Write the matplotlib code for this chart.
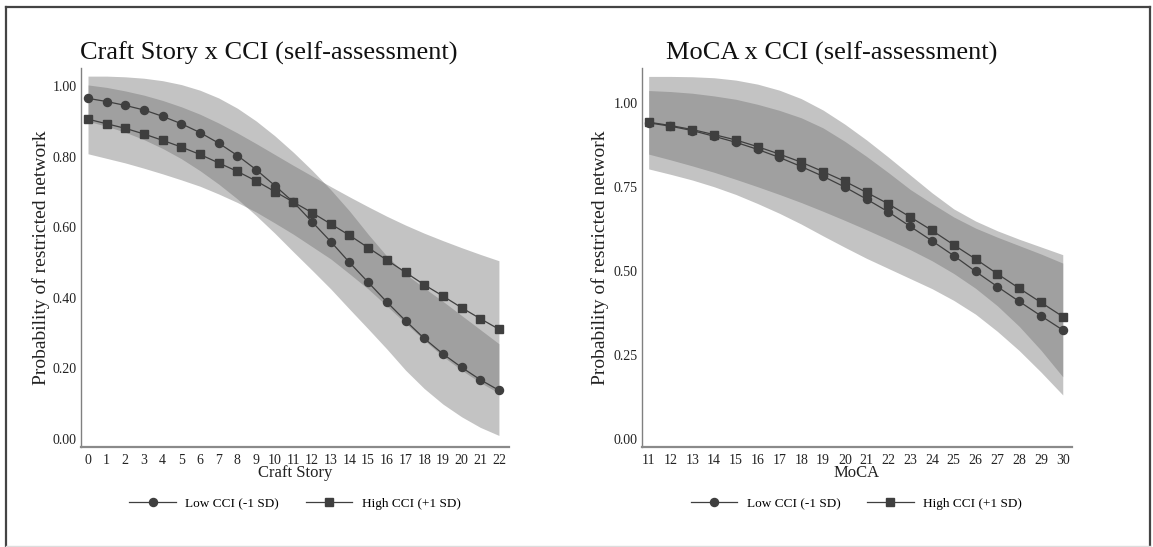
import matplotlib
matplotlib.use("Agg")
import matplotlib.pyplot as plt
from matplotlib.lines import Line2D
import numpy as np

plt.rcParams['font.family'] = ['Liberation Serif', 'DejaVu Serif']

# Craft Story panel
craft_x = np.arange(0, 23)
craft_low = [0.965, 0.956, 0.945, 0.932, 0.914, 0.893, 0.868, 0.838, 0.803, 0.763, 0.718, 0.671,
             0.615, 0.559, 0.500, 0.444, 0.388, 0.335, 0.285, 0.241, 0.203, 0.168, 0.138]
craft_high = [0.906, 0.893, 0.880, 0.864, 0.846, 0.827, 0.806, 0.782, 0.758, 0.731, 0.701, 0.671,
              0.641, 0.609, 0.577, 0.542, 0.507, 0.472, 0.437, 0.405, 0.372, 0.341, 0.311]
craft_low_upper = [1.028, 1.028, 1.026, 1.022, 1.015, 1.004, 0.988, 0.966, 0.937, 0.901, 0.859, 0.812,
                   0.761, 0.706, 0.646, 0.580, 0.518, 0.468, 0.428, 0.390, 0.350, 0.310, 0.270]
craft_low_lower = [0.900, 0.886, 0.869, 0.848, 0.823, 0.794, 0.760, 0.722, 0.680, 0.633, 0.583, 0.530,
                   0.478, 0.425, 0.368, 0.312, 0.255, 0.195, 0.143, 0.099, 0.063, 0.033, 0.010]
craft_high_upper = [1.003, 0.996, 0.986, 0.974, 0.959, 0.941, 0.920, 0.895, 0.867, 0.837, 0.806, 0.775,
                    0.745, 0.715, 0.686, 0.658, 0.631, 0.606, 0.583, 0.562, 0.542, 0.523, 0.505]
craft_high_lower = [0.808, 0.795, 0.782, 0.767, 0.751, 0.734, 0.716, 0.694, 0.670, 0.643, 0.612, 0.580,
                    0.545, 0.510, 0.468, 0.425, 0.377, 0.328, 0.280, 0.234, 0.195, 0.160, 0.130]
craft_yticks = [0.0, 0.2, 0.4, 0.6, 0.8, 1.0]

# MoCA panel
moca_x = np.arange(11, 31)
moca_low = [0.940, 0.930, 0.917, 0.900, 0.882, 0.861, 0.837, 0.810, 0.781, 0.749,
            0.713, 0.675, 0.632, 0.589, 0.545, 0.498, 0.453, 0.409, 0.366, 0.324]
moca_high = [0.942, 0.932, 0.920, 0.905, 0.889, 0.869, 0.847, 0.823, 0.795, 0.766,
             0.733, 0.699, 0.660, 0.620, 0.577, 0.535, 0.491, 0.448, 0.406, 0.364]
moca_low_upper = [1.078, 1.078, 1.077, 1.074, 1.067, 1.055, 1.037, 1.012, 0.978, 0.936,
                  0.889, 0.838, 0.785, 0.732, 0.684, 0.648, 0.619, 0.594, 0.571, 0.548]
moca_low_lower = [0.803, 0.787, 0.770, 0.750, 0.727, 0.700, 0.671, 0.639, 0.604, 0.570,
                  0.537, 0.507, 0.477, 0.447, 0.412, 0.371, 0.320, 0.263, 0.199, 0.131]
moca_high_upper = [1.036, 1.033, 1.028, 1.020, 1.010, 0.995, 0.977, 0.955, 0.925, 0.885,
                   0.840, 0.792, 0.742, 0.700, 0.660, 0.627, 0.600, 0.575, 0.550, 0.523]
moca_high_lower = [0.847, 0.830, 0.812, 0.793, 0.772, 0.750, 0.727, 0.703, 0.677, 0.650,
                   0.622, 0.593, 0.563, 0.530, 0.492, 0.448, 0.396, 0.335, 0.264, 0.185]
moca_yticks = [0.0, 0.25, 0.5, 0.75, 1.0]

series_labels = ["Low CCI (-1 SD)", "High CCI (+1 SD)"]

band_color = "#6e6e6e"
band_alpha = 0.41
line_color = "#3f3f3f"

fig = plt.figure(figsize=(11.53, 5.47), dpi=100)
W, H = 1153, 547


def px_axes(x0, x1, y0, y1):
    return fig.add_axes([x0 / W, 1 - y1 / H, (x1 - x0) / W, (y1 - y0) / H])


def draw_panel(ax, x, low, high, lu, ll, hu, hl, yticks, title, xlabel, xlim, ylim, title_x):
    ax.fill_between(x, ll, lu, color=band_color, alpha=band_alpha, linewidth=0, zorder=1)
    ax.fill_between(x, hl, hu, color=band_color, alpha=band_alpha, linewidth=0, zorder=1)
    ax.plot(x, low, "-o", color=line_color, lw=0.9, ms=5.8, label=series_labels[0], zorder=3)
    ax.plot(x, high, "-s", color=line_color, lw=0.9, ms=6.0, label=series_labels[1], zorder=3)

    ax.set_xlim(*xlim)
    ax.set_ylim(*ylim)
    ax.set_xticks(x)
    ax.set_yticks(yticks)
    ax.set_yticklabels(["%.2f" % v for v in yticks])
    ax.tick_params(length=0, labelsize=10, colors="#222222")
    ax.tick_params(axis="y", pad=3)
    ax.tick_params(axis="x", pad=5)

    for s in ["top", "right"]:
        ax.spines[s].set_visible(False)
    ax.spines["left"].set_color("#808080")
    ax.spines["left"].set_linewidth(1.0)
    ax.spines["bottom"].set_color("#8a8a8a")
    ax.spines["bottom"].set_linewidth(1.6)

    ax.set_title(title, fontsize=19, x=title_x, y=1.021, pad=0, color="#111111")
    ax.set_xlabel(xlabel, fontsize=12, color="#222222")
    ax.xaxis.set_label_coords(0.5, -0.048)
    ax.set_ylabel("Probability of restricted network", fontsize=14, color="#222222")

    ax.legend(loc="center", bbox_to_anchor=(0.5, -0.150), ncol=2, frameon=False,
              fontsize=9.5, handlelength=3.5, handletextpad=0.75, columnspacing=2.0)


ax1 = px_axes(81, 509, 68, 447)
draw_panel(ax1, craft_x, craft_low, craft_high, craft_low_upper, craft_low_lower,
           craft_high_upper, craft_high_lower, craft_yticks,
           "Craft Story x CCI (self-assessment)", "Craft Story",
           (-0.375, 22.54), (-0.0227, 1.051), 0.439)
ax1.yaxis.set_label_coords(-0.072, 0.5)

ax2 = px_axes(641.7, 1071.7, 68, 447)
draw_panel(ax2, moca_x, moca_low, moca_high, moca_low_upper, moca_low_lower,
           moca_high_upper, moca_high_lower, moca_yticks,
           "MoCA x CCI (self-assessment)", "MoCA",
           (10.68, 30.41), (-0.0238, 1.103), 0.4426)
ax2.yaxis.set_label_coords(-0.076, 0.5)

# outer frame
fig.add_artist(Line2D([6 / W, 6 / W], [1 - 7 / H, 1 - 546 / H], color="#444444", lw=1.6))
fig.add_artist(Line2D([6 / W, 1150 / W], [1 - 7 / H, 1 - 7 / H], color="#444444", lw=1.6))
fig.add_artist(Line2D([1150 / W, 1150 / W], [1 - 7 / H, 1 - 546 / H], color="#444444", lw=1.6))
fig.add_artist(Line2D([6 / W, 1150 / W], [1 - 546 / H, 1 - 546 / H], color="#dddddd", lw=1.0))

fig.savefig("out.png", dpi=100)
